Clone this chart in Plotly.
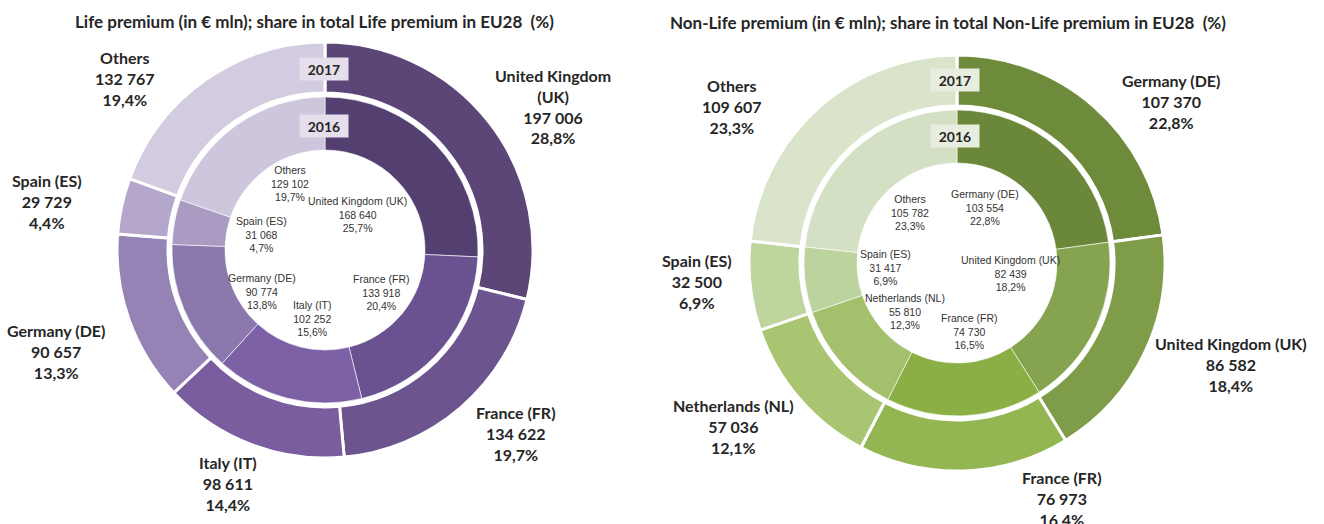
import plotly.graph_objects as go

W, H = 1324, 524

# ---------------- data ----------------
life_countries = ["United Kingdom (UK)", "France (FR)", "Italy (IT)", "Germany (DE)", "Spain (ES)", "Others"]
life_2017 = [197006, 134622, 98611, 90657, 29729, 132767]
life_2016 = [168640, 133918, 102252, 90774, 31068, 129102]

nonlife_countries = ["Germany (DE)", "United Kingdom (UK)", "France (FR)", "Netherlands (NL)", "Spain (ES)", "Others"]
nonlife_2017 = [107370, 86582, 76973, 57036, 32500, 109607]
nonlife_2016 = [103554, 82439, 74730, 55810, 31417, 105782]

years = ["2017", "2016"]
titles = ["Life premium (in € mln); share in total Life premium in EU28  (%)",
          "Non-Life premium (in € mln); share in total Non-Life premium in EU28  (%)"]

# ---------------- styles ----------------
life_col_out = ["#5b4677", "#6c558f", "#7a5d9e", "#9583b5", "#b4a7cb", "#d3cbe0"]
life_col_in = ["#533f70", "#6a5190", "#7d61a6", "#8b79ad", "#a99bc2", "#cec6dc"]
nl_col_out = ["#6e8b3b", "#7f9d48", "#94b652", "#a9c572", "#bed59d", "#d9e4cb"]
nl_col_in = ["#6b883a", "#86a450", "#8caf45", "#a4c06c", "#bcd39e", "#d4e0c4"]

BOLD_FONT = "Lato, Open Sans, sans-serif"
NARROW_FONT = "Liberation Sans Narrow, Arial Narrow, Liberation Sans, sans-serif"


def fmt_num(v):
    return f"{v:,}".replace(",", " ")


def fmt_pct(v, tot):
    return f"{100 * v / tot:.1f}".replace(".", ",") + "%"


def px(x, y):
    return x / W, 1 - y / H


def dom(cx, cy, r):
    return dict(x=[(cx - r) / W, (cx + r) / W], y=[1 - (cy + r) / H, 1 - (cy - r) / H])


fig = go.Figure()

R_OUT, HOLE_OUT = 208, 157 / 208
R_IN, HOLE_IN = 153, 100 / 153

charts = [
    dict(cx=325, cy=250, cats=life_countries, v17=life_2017, v16=life_2016,
         co=life_col_out, ci=life_col_in, box="#e4dfea"),
    dict(cx=957, cy=263, cats=nonlife_countries, v17=nonlife_2017, v16=nonlife_2016,
         co=nl_col_out, ci=nl_col_in, box="#e8eedf"),
]

for ch in charts:
    fig.add_trace(go.Pie(labels=ch["cats"], values=ch["v17"], sort=False, direction="clockwise",
                         rotation=0, hole=HOLE_OUT, domain=dom(ch["cx"], ch["cy"], R_OUT),
                         marker=dict(colors=ch["co"], line=dict(color="white", width=3)),
                         textinfo="none", hoverinfo="label+value+percent", showlegend=False))
    fig.add_trace(go.Pie(labels=ch["cats"], values=ch["v16"], sort=False, direction="clockwise",
                         rotation=0, hole=HOLE_IN, domain=dom(ch["cx"], ch["cy"], R_IN),
                         marker=dict(colors=ch["ci"], line=dict(color="rgba(255,255,255,0.6)", width=1)),
                         textinfo="none", hoverinfo="label+value+percent", showlegend=False))

annotations = []


def add_text(x, y, text, font, **kw):
    xx, yy = px(x, y)
    annotations.append(dict(x=xx, y=yy, xref="paper", yref="paper", text=text,
                            xanchor="center", yanchor="middle", showarrow=False,
                            align="center", font=font, **kw))


# titles
for t, (x, y) in zip(titles, [(314, 21), (948, 22)]):
    add_text(x, y, f"<b>{t}</b>", dict(family=BOLD_FONT, size=17, color="#262626"))

# year boxes
year_pos = [[(324, 69), (324, 126)], [(955, 80), (955, 136)]]
for ch, pos in zip(charts, year_pos):
    for yr, (x, y) in zip(years, pos):
        add_text(x, y, f"<b>{yr}</b>", dict(family=BOLD_FONT, size=14, color="#262626"),
                 bgcolor=ch["box"], width=46, height=20)

# outer (2017) labels: pixel positions of label centers
outer_pos = [
    [(553, 106), (516, 433), (228, 483), (56, 351), (47, 202), (125, 79)],
    [(1171, 102), (1231, 364), (1062, 498), (733, 426), (697, 281), (732, 106)],
]
wrap = [{"United Kingdom (UK)": "United Kingdom<br>(UK)"}, {}]
for ch, pos, wr in zip(charts, outer_pos, wrap):
    tot = sum(ch["v17"])
    for c, v, (x, y) in zip(ch["cats"], ch["v17"], pos):
        name = wr.get(c, c)
        add_text(x, y, f"<b>{name}<br>{fmt_num(v)}<br>{fmt_pct(v, tot)}</b>",
                 dict(family=BOLD_FONT, size=16, color="#262626"))

# inner (2016) labels inside hole
inner_pos = [
    [(357, 215), (381, 292), (312, 318), (262, 291), (261, 234), (290, 184)],
    [(985, 207), (1010, 273), (970, 331), (905, 311), (885, 267), (910, 212)],
]
for ch, pos in zip(charts, inner_pos):
    tot = sum(ch["v16"])
    for c, v, (x, y) in zip(ch["cats"], ch["v16"], pos):
        add_text(x, y, f"{c}<br>{fmt_num(v)}<br>{fmt_pct(v, tot)}",
                 dict(family=NARROW_FONT, size=10.5, color="#333333"))

fig.update_layout(width=W, height=H, margin=dict(l=0, r=0, t=0, b=0),
                  paper_bgcolor="white", plot_bgcolor="white", annotations=annotations)

fig.write_html("out.html", config={"displayModeBar": False},
               post_script="document.body.style.margin='0';")
